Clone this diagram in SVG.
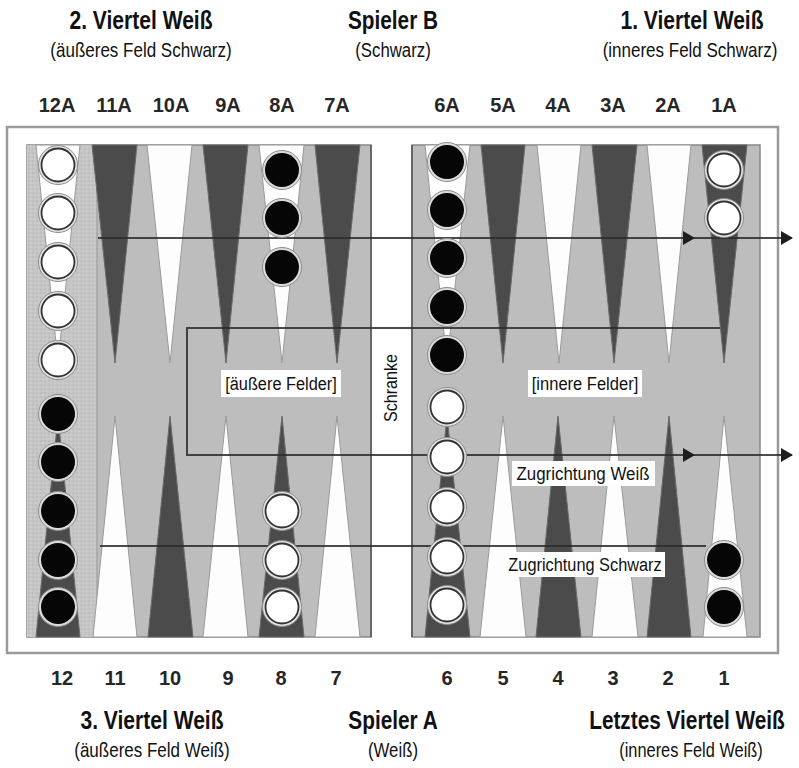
<svg xmlns="http://www.w3.org/2000/svg" width="799" height="768" viewBox="0 0 799 768">
<defs>
<style>
.title{font-family:"Liberation Sans",Arial,sans-serif;font-weight:bold;font-size:26px;fill:#111;text-anchor:middle}
.sub{font-family:"Liberation Sans",Arial,sans-serif;font-size:21px;fill:#111;text-anchor:middle}
.num{font-family:"Liberation Sans",Arial,sans-serif;font-weight:bold;font-size:20px;fill:#262626;text-anchor:middle}
.lbl{font-family:"Liberation Sans",Arial,sans-serif;font-size:19px;fill:#111;text-anchor:middle}
.box{fill:#fff}
.dk{fill:#4b4b4b;stroke:#6a6a6a;stroke-width:1}
.wt{fill:#fdfdfd;stroke:#9a9a9a;stroke-width:1}
.conn{fill:none;stroke:#2c2c2c;stroke-width:2;stroke-opacity:0.85}
</style>
<pattern id="dots" width="4" height="4" patternUnits="userSpaceOnUse">
<rect width="4" height="4" fill="#c6c6c6"/>
<circle cx="1" cy="1" r="0.6" fill="#a6a6a6"/>
<circle cx="3" cy="3" r="0.5" fill="#dadada"/>
</pattern>
<g id="wc">
<circle r="19.5" fill="#e4e4e4" stroke="#8c8c8c" stroke-width="1"/>
<circle r="16.5" fill="#fff" stroke="#333" stroke-width="1.8"/>
</g>
<g id="bc">
<circle r="19.5" fill="#dcdcdc" stroke="#8c8c8c" stroke-width="1"/>
<circle r="17" fill="#060606"/>
</g>
<marker id="arr" markerUnits="userSpaceOnUse" markerWidth="12" markerHeight="14" refX="11" refY="7" orient="auto">
<path d="M0,0 L12,7 L0,14 z" fill="#1e1e1e"/>
</marker>
</defs>
<rect width="799" height="768" fill="#fff"/>

<g id="titles">
<text class="title" transform="translate(141,29) scale(0.81,1)">2. Viertel Weiß</text>
<text class="sub" transform="translate(141,57) scale(0.81,1)">(äußeres Feld Schwarz)</text>
<text class="title" transform="translate(393,29) scale(0.8,1)">Spieler B</text>
<text class="sub" transform="translate(393,57) scale(0.8,1)">(Schwarz)</text>
<text class="title" transform="translate(692,29) scale(0.81,1)">1. Viertel Weiß</text>
<text class="sub" transform="translate(690,57) scale(0.81,1)">(inneres Feld Schwarz)</text>
<text class="title" transform="translate(152,729) scale(0.81,1)">3. Viertel Weiß</text>
<text class="sub" transform="translate(152,757) scale(0.81,1)">(äußeres Feld Weiß)</text>
<text class="title" transform="translate(393,729) scale(0.8,1)">Spieler A</text>
<text class="sub" transform="translate(393,757) scale(0.8,1)">(Weiß)</text>
<text class="title" transform="translate(687,729) scale(0.8,1)">Letztes Viertel Weiß</text>
<text class="sub" transform="translate(691,757) scale(0.78,1)">(inneres Feld Weiß)</text>
</g>

<g id="point-numbers">
<text class="num" x="57" y="112">12A</text><text class="num" x="114" y="112">11A</text><text class="num" x="171" y="112">10A</text><text class="num" x="228" y="112">9A</text><text class="num" x="282" y="112">8A</text><text class="num" x="337" y="112">7A</text>
<text class="num" x="447" y="112">6A</text><text class="num" x="503" y="112">5A</text><text class="num" x="558" y="112">4A</text><text class="num" x="613" y="112">3A</text><text class="num" x="668" y="112">2A</text><text class="num" x="724" y="112">1A</text>
<text class="num" x="62" y="685">12</text><text class="num" x="115" y="685">11</text><text class="num" x="170" y="685">10</text><text class="num" x="228" y="685">9</text><text class="num" x="281" y="685">8</text><text class="num" x="336" y="685">7</text>
<text class="num" x="447" y="685">6</text><text class="num" x="503" y="685">5</text><text class="num" x="558" y="685">4</text><text class="num" x="613" y="685">3</text><text class="num" x="668" y="685">2</text><text class="num" x="724" y="685">1</text>
</g>

<g id="board">
<rect x="7" y="127" width="771" height="526" fill="#fff" stroke="#9a9a9a" stroke-width="2.5"/>
<rect x="27" y="145" width="344" height="492" fill="#bdbdbd" stroke="#888" stroke-width="1.5"/>
<rect x="412" y="145" width="348" height="492" fill="#bdbdbd" stroke="#888" stroke-width="1.5"/>
<rect x="27" y="145" width="70" height="492" fill="url(#dots)"/>
<line x1="97" y1="145" x2="97" y2="637" stroke="#999" stroke-width="1"/>
<line x1="371" y1="145" x2="371" y2="637" stroke="#555" stroke-width="1.5"/>
<line x1="412" y1="145" x2="412" y2="637" stroke="#555" stroke-width="1.5"/>
<polygon class="wt" points="36,145 80,145 58,363"/>
<polygon class="dk" points="92,145 137,145 115,363"/>
<polygon class="wt" points="147,145 192,145 170,363"/>
<polygon class="dk" points="203,145 248,145 226,363"/>
<polygon class="wt" points="259,145 304,145 282,363"/>
<polygon class="dk" points="315,145 360,145 337,363"/>
<polygon class="wt" points="425,145 470,145 447,363"/>
<polygon class="dk" points="481,145 525,145 503,363"/>
<polygon class="wt" points="537,145 581,145 559,363"/>
<polygon class="dk" points="592,145 637,145 614,363"/>
<polygon class="wt" points="647,145 691,145 669,363"/>
<polygon class="dk" points="702,145 747,145 724,363"/>
<polygon class="dk" points="36,637 80,637 58,416"/>
<polygon class="wt" points="93,637 137,637 115,416"/>
<polygon class="dk" points="148,637 193,637 170,416"/>
<polygon class="wt" points="203,637 248,637 226,416"/>
<polygon class="dk" points="259,637 304,637 282,416"/>
<polygon class="wt" points="315,637 360,637 337,416"/>
<polygon class="dk" points="425,637 470,637 447,416"/>
<polygon class="wt" points="480,637 526,637 503,416"/>
<polygon class="dk" points="536,637 581,637 558,416"/>
<polygon class="wt" points="592,637 638,637 614,416"/>
<polygon class="dk" points="647,637 691,637 669,416"/>
<polygon class="wt" points="703,637 747,637 724,416"/>
</g>

<g id="connectors">
<line class="conn" x1="98" y1="238" x2="694" y2="238" marker-end="url(#arr)"/>
<line class="conn" x1="694" y1="238" x2="792" y2="238" marker-end="url(#arr)"/>
<path class="conn" d="M720,328 H187 V455 H694" marker-end="url(#arr)"/>
<line class="conn" x1="694" y1="455" x2="792" y2="455" marker-end="url(#arr)"/>
<line class="conn" x1="100" y1="546" x2="706" y2="546"/>
</g>

<g id="checkers-12A"><use href="#wc" x="58" y="165"/><use href="#wc" x="58" y="213"/><use href="#wc" x="58" y="262"/><use href="#wc" x="58" y="311"/><use href="#wc" x="58" y="360"/></g>
<g id="checkers-12"><use href="#bc" x="58" y="414"/><use href="#bc" x="58" y="462"/><use href="#bc" x="58" y="511"/><use href="#bc" x="58" y="560"/><use href="#bc" x="58" y="607"/></g>
<g id="checkers-8A"><use href="#bc" x="282" y="170"/><use href="#bc" x="282" y="218"/><use href="#bc" x="282" y="267"/></g>
<g id="checkers-8"><use href="#wc" x="282" y="511"/><use href="#wc" x="282" y="560"/><use href="#wc" x="282" y="607"/></g>
<g id="checkers-6A"><use href="#bc" x="447" y="162"/><use href="#bc" x="447" y="210"/><use href="#bc" x="447" y="258"/><use href="#bc" x="447" y="307"/><use href="#bc" x="447" y="355"/></g>
<g id="checkers-6"><use href="#wc" x="447" y="407"/><use href="#wc" x="447" y="457"/><use href="#wc" x="447" y="507"/><use href="#wc" x="447" y="557"/><use href="#wc" x="447" y="605"/></g>
<g id="checkers-1A"><use href="#wc" x="724" y="170"/><use href="#wc" x="724" y="218"/></g>
<g id="checkers-1"><use href="#bc" x="724" y="560"/><use href="#bc" x="724" y="607"/></g>

<g id="label-aeussere"><rect class="box" x="221" y="370" width="120" height="27"/><text class="lbl" transform="translate(281,390) scale(0.86,1)">[äußere Felder]</text></g>
<g id="label-innere"><rect class="box" x="528" y="370" width="114" height="27"/><text class="lbl" transform="translate(585,390) scale(0.87,1)">[innere Felder]</text></g>
<g id="label-schranke"><text class="lbl" transform="translate(397,388) rotate(-90) scale(0.85,1)">Schranke</text></g>
<g id="label-weiss"><rect class="box" x="512" y="461" width="143" height="25"/><text class="lbl" transform="translate(583,480) scale(0.89,1)">Zugrichtung Weiß</text></g>
<g id="label-schwarz"><rect class="box" x="505" y="552" width="160" height="25"/><text class="lbl" transform="translate(585,571) scale(0.86,1)">Zugrichtung Schwarz</text></g>
</svg>
